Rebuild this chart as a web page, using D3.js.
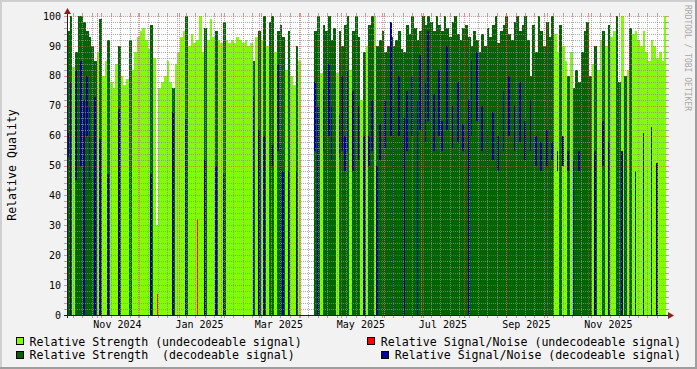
<!DOCTYPE html>
<html lang="en">
<head>
<meta charset="UTF-8">
<title>Relative Quality</title>
<style>
body {
	margin: 0;
	background: #f2f2f2;
}
svg {
	display: block;
}
text {
	font-family: "DejaVu Sans Mono", monospace;
	white-space: pre;
}
</style>
</head>
<body>
<svg id="chart" width="697" height="369"></svg>
<script src="https://cdn.jsdelivr.net/npm/d3@7/dist/d3.min.js"></script>
<script>

// time range of the graph, every bin holds two days
const startDate = new Date(2024, 9, 9, 12);
const endDate = new Date(2025, 11, 28, 20);
const binDays = 2;

// 1 = decodeable signal, 0 = undecodeable
const decoded = [
	1,1,0,1,1,1,1,1,1,1,  1,0,1,0,0,1,0,0,0,1,
	0,0,0,1,0,0,0,0,0,0,  0,1,0,0,0,0,0,0,0,1,
	0,0,0,0,1,0,0,0,0,0,  0,1,0,0,0,1,0,0,1,0,
	0,0,0,0,0,0,0,0,0,1,  0,1,0,1,0,1,1,0,1,1,
	1,0,1,0,0,1,0,0,0,0,  0,0,1,1,0,1,1,1,1,1,
	0,1,1,1,1,0,1,1,1,0,  1,0,1,1,0,1,1,1,1,1,
	1,1,1,1,1,1,1,1,1,1,  1,1,1,1,1,1,1,1,1,1,
	1,1,1,1,1,1,1,1,1,1,  1,1,1,1,1,1,1,1,1,1,
	1,1,1,1,1,1,1,1,1,1,  1,1,1,1,1,1,1,1,1,1,
	1,0,0,1,0,0,1,0,1,1,  1,1,1,1,1,0,1,0,0,1,
	0,1,0,0,1,1,0,1,0,1,  0,0,0
];

// relative strength, null = no data
const strength = [
	95,100,83,88,100,100,98,95,93,90,  85,88,99,80,85,92,78,76,84,90,
	80,77,79,92,82,88,93,95,96,92,  89,97,86,30,76,78,80,85,78,76,
	84,88,93,95,100,90,94,91,92,100,  88,96,92,99,93,95,92,91,98,92,
	91,92,91,93,92,91,92,90,91,85,  93,95,92,100,90,98,100,88,95,97,
	93,82,95,80,77,90,85,null,null,null,  null,null,95,100,81,97,95,100,92,96,
	81,95,90,97,100,82,95,100,93,72,  88,90,97,100,100,90,92,95,88,90,
	93,90,92,95,89,88,97,94,100,96,  92,95,100,97,100,98,95,100,97,95,
	100,96,93,98,100,94,92,96,97,93,  90,95,92,88,94,90,96,93,97,100,
	91,95,97,100,94,92,98,100,95,97,  100,92,80,97,88,100,95,90,98,93,
	100,94,88,97,90,85,80,88,76,82,  78,88,95,98,80,84,90,82,92,95,
	90,97,93,95,100,78,100,80,82,96,  94,95,92,90,95,88,85,92,90,86,
	88,85,100
];

// relative signal/noise of decodeable signal, drawn as band bottom..top
const snrTop = [
	61,78,0,82,0,85,72,80,70,0,  73,0,59,0,0,47,0,0,0,69,
	0,0,0,0,0,0,0,0,0,0,  0,47,0,0,0,0,0,0,0,68,
	0,0,0,0,66,0,0,0,0,0,  0,52,0,0,0,50,0,0,47,0,
	0,0,0,0,0,0,0,0,0,73,  0,62,0,60,0,0,57,0,84,57,
	48,0,48,0,0,48,0,0,0,0,  0,0,78,70,0,76,0,84,70,0,
	0,67,80,60,82,0,75,0,70,0,  60,0,60,72,0,50,64,0,72,0,
	98,70,0,80,0,66,75,0,80,0,  72,87,0,78,95,0,74,0,82,65,
	0,90,0,70,0,78,0,64,0,72,  85,0,88,0,70,0,62,0,68,0,
	60,0,75,0,80,0,70,0,78,0,  65,0,72,0,60,0,58,0,62,0,
	58,0,55,0,60,0,55,0,52,0,  55,0,0,0,0,0,55,0,0,65,
	0,58,0,0,0,0,55,0,0,0,  0,48,0,0,61,0,0,63,0,51,
	0,0,0
];
const snrBottom = [
	53,0,0,45,0,50,0,60,45,0,  0,0,0,0,0,0,0,0,0,0,
	0,0,0,0,0,0,0,0,0,0,  0,0,0,0,0,0,0,0,0,0,
	0,0,0,0,0,0,0,0,0,0,  0,0,0,0,0,0,0,0,0,0,
	0,0,0,0,0,0,0,0,0,0,  0,0,0,0,0,0,50,0,55,0,
	0,0,0,0,0,0,0,0,0,0,  0,0,55,0,0,55,0,60,52,0,
	0,53,55,48,55,0,48,0,52,0,  0,0,50,55,0,0,52,0,56,0,
	60,0,0,60,0,0,55,0,60,0,  0,62,0,58,65,0,55,0,60,55,
	0,62,0,56,0,58,0,55,0,0,  60,0,65,0,55,0,50,0,52,0,
	48,0,55,0,60,0,55,0,58,0,  52,0,55,0,50,0,48,0,50,0,
	52,0,48,0,50,0,48,0,0,0,  48,0,0,0,0,0,0,0,0,50,
	0,0,0,0,0,0,0,0,0,0,  0,0,0,0,0,0,0,0,0,0,
	0,0,0
];

// signal/noise of undecodeable signal, only two bins have it
const redBins = [33, 48];
const redSnr = [7, 32];

const monthLabels = ["Nov 2024", "Jan 2025", "Mar 2025", "May 2025", "Jul 2025", "Sep 2025", "Nov 2025"];
const yTicks = [0, 10, 20, 30, 40, 50, 60, 70, 80, 90, 100];

const colLight = "#7fff00";
const colDark = "#006400";
const colRed = "#ff0000";
const colBlue = "#000099";
const colMinor = "rgba(143,143,143,0.75)";
const colMajor = "rgba(222,79,79,0.6)";

const svg = d3.select("#chart");
const W = 697, H = 369;
const pLeft = 67, pRight = 666, pTop = 16, pBottom = 315;

const x = d3.scaleTime().domain([startDate, endDate]).range([pLeft, pRight]);
const y = d3.scaleLinear().domain([0, 100]).range([pBottom, pTop]);

const binDate = i => new Date(+startDate + i * binDays * 864e5);

// frame
svg.append("rect").attr("width", W).attr("height", H).attr("fill", "#f2f2f2");
svg.append("rect").attr("x", 0).attr("y", 0).attr("width", W).attr("height", 2).attr("fill", "#cfcfcf");
svg.append("rect").attr("x", 0).attr("y", 0).attr("width", 2).attr("height", H).attr("fill", "#cfcfcf");
svg.append("rect").attr("x", 0).attr("y", H - 2).attr("width", W).attr("height", 2).attr("fill", "#9e9e9e");
svg.append("rect").attr("x", W - 2).attr("y", 0).attr("width", 2).attr("height", H).attr("fill", "#9e9e9e");

// canvas
svg.append("rect")
	.attr("x", pLeft).attr("y", pTop)
	.attr("width", pRight - pLeft).attr("height", pBottom - pTop)
	.attr("fill", "#ffffff");

const bins = strength.map((s, i) => ({
	s: s,
	dec: decoded[i],
	snrTop: snrTop[i],
	snrBottom: snrBottom[i],
	x0: Math.round(x(binDate(i))),
	x1: Math.min(pRight, Math.round(x(binDate(i + 1))))
})).filter(d => d.s !== null);

const data = svg.append("g").attr("shape-rendering", "crispEdges");

// strength areas
data.selectAll("rect.str")
	.data(bins)
	.join("rect")
	.attr("class", "str")
	.attr("x", d => d.x0)
	.attr("width", d => d.x1 - d.x0)
	.attr("y", d => Math.round(y(d.s)))
	.attr("height", d => pBottom - Math.round(y(d.s)))
	.attr("fill", d => d.dec ? colDark : colLight);

// red signal/noise
data.selectAll("rect.red")
	.data(redBins.map((b, k) => ({i: b, v: redSnr[k]})))
	.join("rect")
	.attr("class", "red")
	.attr("x", d => Math.round(x(binDate(d.i))) + 1)
	.attr("width", 1)
	.attr("y", d => Math.round(y(d.v)))
	.attr("height", d => pBottom - Math.round(y(d.v)))
	.attr("fill", colRed);

// blue signal/noise, a bit narrower than the bin like the thin rrd columns
data.selectAll("rect.snr")
	.data(bins.filter(d => d.snrTop > 0))
	.join("rect")
	.attr("class", "snr")
	.attr("x", d => d.x0)
	.attr("width", d => Math.max(1, d.x1 - d.x0 - 1))
	.attr("y", d => Math.round(y(d.snrTop)))
	.attr("height", d => Math.round(y(d.snrBottom)) - Math.round(y(d.snrTop)))
	.attr("fill", colBlue);

// grid, drawn over the data like rrdtool does
const grid = svg.append("g").attr("shape-rendering", "crispEdges").attr("stroke-width", 1);

function hGrid(v, color) {
	const yy = Math.round(y(v)) + 0.5;
	grid.append("line").attr("x1", pLeft).attr("x2", pRight).attr("y1", yy).attr("y2", yy)
		.attr("stroke", color).attr("stroke-dasharray", "1,1");
	grid.append("line").attr("x1", pLeft - 3).attr("x2", pLeft).attr("y1", yy).attr("y2", yy).attr("stroke", color);
	grid.append("line").attr("x1", pRight).attr("x2", pRight + 3).attr("y1", yy).attr("y2", yy).attr("stroke", color);
}

function vGrid(date, color) {
	const xx = Math.round(x(date)) + 0.5;
	grid.append("line").attr("x1", xx).attr("x2", xx).attr("y1", pTop).attr("y2", pBottom)
		.attr("stroke", color).attr("stroke-dasharray", "1,1");
	grid.append("line").attr("x1", xx).attr("x2", xx).attr("y1", pTop - 3).attr("y2", pTop).attr("stroke", color);
	grid.append("line").attr("x1", xx).attr("x2", xx).attr("y1", pBottom).attr("y2", pBottom + 3).attr("stroke", color);
}

d3.range(2, 100, 2).filter(v => v % 10 !== 0).forEach(v => hGrid(v, colMinor));
d3.timeMonday.range(startDate, endDate).forEach(d => vGrid(d, colMinor));
yTicks.filter(v => v > 0).forEach(v => hGrid(v, colMajor));
d3.timeMonth.range(startDate, endDate).forEach(d => vGrid(d, colMajor));

// axes
const axis = svg.append("g").attr("shape-rendering", "crispEdges");
axis.append("line").attr("x1", pLeft - 3).attr("x2", pRight + 5).attr("y1", pBottom + 0.5).attr("y2", pBottom + 0.5)
	.attr("stroke", "#1f1f1f");
axis.append("line").attr("x1", pLeft + 0.5).attr("x2", pLeft + 0.5).attr("y1", pBottom + 3).attr("y2", pTop - 4)
	.attr("stroke", "#1f1f1f");
svg.append("path")
	.attr("d", `M${pRight + 2},${pBottom - 3} L${pRight + 8},${pBottom + 0.5} L${pRight + 2},${pBottom + 4} Z`)
	.attr("fill", "#8f1f1f");
svg.append("path")
	.attr("d", `M${pLeft - 3},${pTop - 2} L${pLeft + 0.5},${pTop - 8} L${pLeft + 4},${pTop - 2} Z`)
	.attr("fill", "#8f1f1f");

// y labels
svg.append("g").selectAll("text")
	.data(yTicks)
	.join("text")
	.attr("x", 61)
	.attr("y", d => y(d) + 3.6)
	.attr("text-anchor", "end")
	.attr("font-size", "10px")
	.attr("fill", "#000")
	.text(d => d);

// x labels, centred in the middle of the month
const parseMonth = d3.timeParse("%b %Y");
svg.append("g").selectAll("text")
	.data(monthLabels)
	.join("text")
	.attr("x", d => x(d3.timeDay.offset(parseMonth(d), 15)))
	.attr("y", 328)
	.attr("text-anchor", "middle")
	.attr("font-size", "10px")
	.attr("fill", "#000")
	.text(d => d);

// y title
svg.append("text")
	.attr("transform", "translate(16,165) rotate(-90)")
	.attr("text-anchor", "middle")
	.attr("font-size", "11.6px")
	.attr("fill", "#000")
	.text("Relative Quality");

// watermark
svg.append("text")
	.attr("transform", "translate(685,5) rotate(90)")
	.attr("font-size", "8px")
	.attr("fill", "#a8a8a8")
	.text("RRDTOOL / TOBI OETIKER");

// legend
const legend = [
	{label: "Relative Strength (undecodeable signal)", color: colLight, row: 0, side: "left"},
	{label: "Relative Signal/Noise (undecodeable signal)", color: colRed, row: 0, side: "right"},
	{label: "Relative Strength  (decodeable signal)", color: colDark, row: 1, side: "left"},
	{label: "Relative Signal/Noise (decodeable signal)", color: colBlue, row: 1, side: "right"}
];

legend.forEach(d => {
	const base = 345.8 + d.row * 13.5;
	const t = svg.append("text")
		.attr("y", base)
		.attr("font-size", "11.6px")
		.attr("fill", "#000")
		.text(d.label);
	let tx = 29.5;
	if (d.side === "right") {
		tx = 681 - t.node().getComputedTextLength();
	}
	t.attr("x", tx);
	svg.append("rect")
		.attr("x", Math.round(tx - 14) + 0.5)
		.attr("y", Math.round(base - 8.5) + 0.5)
		.attr("width", 7)
		.attr("height", 7)
		.attr("fill", d.color)
		.attr("stroke", "#000")
		.attr("shape-rendering", "crispEdges");
});

</script>
</body>
</html>
